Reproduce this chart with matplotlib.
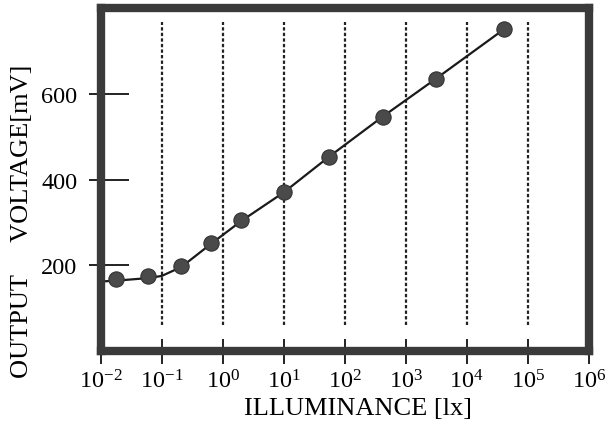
import numpy as np
import matplotlib
matplotlib.use("Agg")
import matplotlib.pyplot as plt

# measured points (illuminance in lx, output voltage in mV)
lux = [0.018, 0.06, 0.21, 0.63, 2.0, 10, 55, 420, 3100, 41000]
mv = [167, 174, 198, 251, 305, 372, 453, 547, 635, 751]

# drawn response curve
curve_lux = [0.01, 0.018, 0.06, 0.1, 0.21, 0.63, 2.0, 10, 55, 420, 3100, 41000]
curve_mv = [162, 164, 170, 175, 196, 249, 303, 370, 453, 547, 635, 751]

grid_lux = [1e-1, 1e0, 1e1, 1e2, 1e3, 1e4, 1e5]
xtick_vals = [1e-2, 1e-1, 1e0, 1e1, 1e2, 1e3, 1e4, 1e5, 1e6]
xtick_labels = ["$\\mathregular{10^{-2}}$", "$\\mathregular{10^{-1}}$", "$\\mathregular{10^{0}}$",
                "$\\mathregular{10^{1}}$", "$\\mathregular{10^{2}}$", "$\\mathregular{10^{3}}$",
                "$\\mathregular{10^{4}}$", "$\\mathregular{10^{5}}$", "$\\mathregular{10^{6}}$"]
ytick_vals = [200, 400, 600]

plt.rcParams['font.family'] = ['Liberation Serif', 'DejaVu Serif']
plt.rcParams['mathtext.fontset'] = 'custom'
plt.rcParams['mathtext.rm'] = 'Liberation Serif'

dark = '#3a3a3a'
fig = plt.figure(figsize=(6.07, 4.35), dpi=100)
ax = fig.add_axes([0.166, 0.191, 0.804, 0.788])

for g in grid_lux:
    ax.axvline(g, ymin=0.075, ymax=0.96, color='#222222', lw=1.6, ls=(0, (1.5, 1.0)))

ax.plot(curve_lux, curve_mv, color='#1a1a1a', lw=1.6, zorder=3)
ax.plot(lux, mv, 'o', ms=11, color='#4a4a4a', mec='#333333', mew=0.8, zorder=4)

ax.set_xscale('log')
ax.set_xlim(1e-2, 1e6)
ax.set_ylim(0, 800)

ax.set_xticks(xtick_vals)
ax.set_xticklabels(xtick_labels)
ax.xaxis.set_minor_locator(matplotlib.ticker.NullLocator())
ax.tick_params(axis='x', which='major', direction='inout', length=18, width=1.4,
               color='#222222', labelsize=17.5, pad=4)

ax.set_yticks(ytick_vals)
ax.set_yticklabels([str(v) for v in ytick_vals])
ax.set_yticks(ytick_vals, minor=True)
ax.yaxis.remove_overlapping_locs = False
ax.tick_params(axis='y', which='major', direction='in', length=20, width=1.4,
               color='#222222', labelsize=17.5, pad=17)
ax.tick_params(axis='y', which='minor', direction='out', length=9, width=1.4,
               color='#222222')

for s in ax.spines.values():
    s.set_linewidth(6)
    s.set_color(dark)
    s.set_zorder(5)

ax.set_xlabel('ILLUMINANCE [lx]', fontsize=19)
ax.xaxis.set_label_coords(0.527, -0.135)
ax.set_ylabel('OUTPUT     VOLTAGE[mV]', fontsize=19)
ax.yaxis.set_label_coords(-0.138, 0.382)

fig.savefig('out.png', dpi=100)
